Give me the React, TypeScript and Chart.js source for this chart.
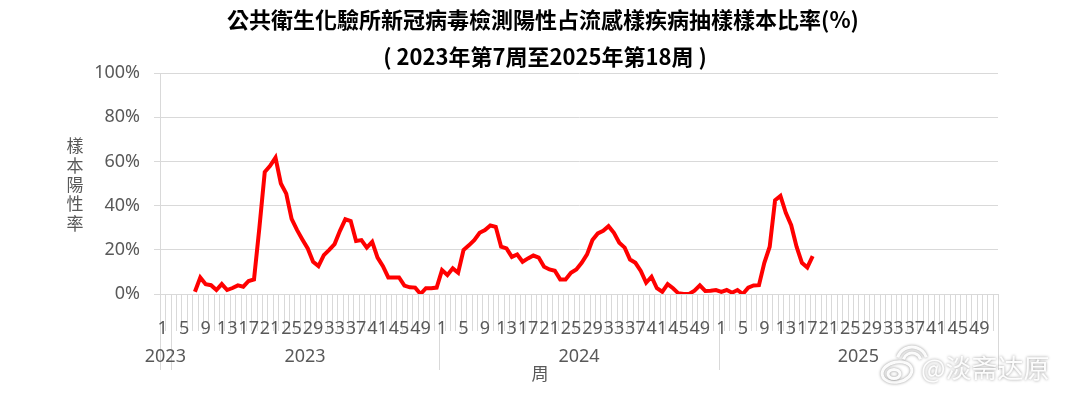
import { useEffect, useRef } from 'react';
import { Chart, registerables } from 'chart.js';

Chart.register(...registerables);

const TITLE_LINES = ['公共衛生化驗所新冠病毒檢測陽性占流感樣疾病抽樣樣本比率(%)', '( 2023年第7周至2025年第18周 )'];
const Y_TITLE = ['樣', '本', '陽', '性', '率'];
const X_TITLE = '周';
const WATERMARK = '@淡斋达原';

// multi-level category groups (year label, number of weeks in group)
const GROUP_LABELS = ['2023', '2023', '2024', '2025'];
const GROUP_SIZES = [2, 50, 52, 52];

// week labels per year
const WEEKS_2023 = Array.from({ length: 52 }, (_, i) => String(i + 1));
const WEEKS_2024 = Array.from({ length: 52 }, (_, i) => String(i + 1));
const WEEKS_2025 = Array.from({ length: 52 }, (_, i) => String(i + 1));

// positivity rate (%)
const VALUES_2023 = [
  null, null, null, null, null, null,
  1, 7.5, 4.4, 4, 1.8, 4.5, 1.8, 2.7, 3.9, 3.3, 5.9, 6.6,
  30, 55.2, 58, 61.7, 50, 45.4, 34, 29, 24.7, 20.6, 14.6, 12.6,
  17.6, 20, 22.6, 28.6, 33.8, 33, 24, 24.4, 21, 23.6, 16.5, 12.6,
  7.5, 7.5, 7.5, 3.8, 3, 2.9, 0, 2.6, 2.6, 2.9,
];
const VALUES_2024 = [
  10.8, 8.6, 11.6, 9.6, 19.9, 22, 24.4, 27.7, 28.9, 31, 30.4, 21.4,
  20.6, 16.8, 17.9, 14.6, 16.1, 17.4, 16.5, 12.3, 11.1, 10.5, 6.6, 6.6,
  9.6, 11.1, 14.1, 17.9, 24.4, 27.4, 28.6, 30.7, 27.7, 23.2, 21, 15.6,
  14.1, 10.4, 5.1, 7.8, 2.6, 1, 4.5, 2.6, 0.3, 0, 0, 1.5, 3.9, 1.4, 1.5, 1.8,
];
const VALUES_2025 = [
  1, 1.8, 0.6, 1.8, 0, 2.9, 3.9, 4, 14.1, 21.4, 42.4, 44.4, 36.7, 31.1, 21.4, 14.1, 12, 17.1,
  ...Array(34).fill(null),
];

const Y_TICK_STEP = 20;
const LABEL_EVERY = 4;

const LABELS = [...WEEKS_2023, ...WEEKS_2024, ...WEEKS_2025];
const VALUES = [...VALUES_2023, ...VALUES_2024, ...VALUES_2025];

const GREY = '#595959';
const LINE_GREY = '#d9d9d9';

const decorPlugin = {
  id: 'decor',
  beforeDraw(chart: any) {
    const ctx = chart.ctx;
    const xs = chart.scales.x;
    const area = chart.chartArea;
    const half = (xs.getPixelForValue(1) - xs.getPixelForValue(0)) / 2;
    const n = LABELS.length;
    const groupStarts = new Set<number>();
    let acc = 0;
    groupStarts.add(0);
    GROUP_SIZES.forEach((s) => { acc += s; groupStarts.add(acc); });
    ctx.save();
    ctx.strokeStyle = LINE_GREY;
    ctx.lineWidth = 1;
    for (let i = 0; i <= n; i++) {
      const px = Math.round(i < n ? xs.getPixelForValue(i) - half : xs.getPixelForValue(n - 1) + half) + 0.5;
      const len = groupStarts.has(i) ? 76 : 37;
      ctx.beginPath();
      ctx.moveTo(px, area.bottom);
      ctx.lineTo(px, area.bottom + len);
      ctx.stroke();
    }
    ctx.restore();
  },
  afterDraw(chart: any) {
    const ctx = chart.ctx;
    const xs = chart.scales.x;
    const area = chart.chartArea;
    const half = (xs.getPixelForValue(1) - xs.getPixelForValue(0)) / 2;
    ctx.save();
    // title
    ctx.fillStyle = '#000';
    ctx.textAlign = 'center';
    ctx.textBaseline = 'middle';
    ctx.font = 'bold 22px "Noto Sans CJK TC"';
    ctx.fillText(TITLE_LINES[0], 543, 20);
    ctx.fillText(TITLE_LINES[1], 545, 57);

    // group (year) labels
    ctx.fillStyle = GREY;
    ctx.font = '18px "Noto Sans"';
    let start = 0;
    GROUP_LABELS.forEach((lab, gi) => {
      const end = start + GROUP_SIZES[gi];
      const l = xs.getPixelForValue(start) - half;
      const r = xs.getPixelForValue(end - 1) + half;
      ctx.fillText(lab, (l + r) / 2, area.bottom + 63);
      start = end;
    });

    // x title
    ctx.font = '17px "Noto Sans CJK TC"';
    ctx.fillText(X_TITLE, area.left + 380, area.bottom + 80);

    // y title (stacked characters)
    Y_TITLE.forEach((ch, i) => {
      ctx.fillText(ch, 75, 146 + i * 19.3);
    });

    // watermark
    ctx.font = '26px "Noto Sans CJK SC"';
    ctx.textAlign = 'left';
    ctx.shadowColor = 'rgba(0,0,0,0.45)';
    ctx.shadowBlur = 3;
    ctx.fillStyle = 'rgba(255,255,255,0.95)';
    ctx.fillText(WATERMARK, 921, 368);
    // weibo-like logo
    ctx.strokeStyle = 'rgba(255,255,255,0.95)';
    ctx.lineWidth = 3;
    ctx.beginPath();
    ctx.ellipse(897, 372, 15, 10, -0.2, 0, Math.PI * 2);
    ctx.stroke();
    ctx.beginPath();
    ctx.ellipse(894, 374, 6, 4.5, 0, 0, Math.PI * 2);
    ctx.stroke();
    ctx.beginPath();
    ctx.arc(912, 362, 9, -Math.PI * 0.9, -Math.PI * 0.1);
    ctx.stroke();
    ctx.beginPath();
    ctx.arc(912, 362, 15, -Math.PI * 0.9, -Math.PI * 0.1);
    ctx.stroke();
    ctx.restore();
  },
};

export default function App() {
  const ref = useRef<HTMLCanvasElement>(null);
  useEffect(() => {
    if (!ref.current) return;
    const chart = new Chart(ref.current, {
      type: 'line',
      data: {
        labels: LABELS,
        datasets: [
          {
            data: VALUES as any,
            borderColor: '#ff0000',
            borderWidth: 4,
            pointRadius: 0,
            tension: 0,
            spanGaps: false,
          },
        ],
      },
      options: {
        responsive: false,
        animation: false,
        layout: { padding: { top: 73, left: 0, right: 71, bottom: 0 } },
        plugins: { legend: { display: false }, tooltip: { enabled: false }, title: { display: false } },
        scales: {
          x: {
            type: 'category',
            offset: true,
            grid: { display: false },
            border: { display: true, color: LINE_GREY },
            ticks: {
              autoSkip: false,
              maxRotation: 0,
              minRotation: 0,
              padding: 16,
              color: GREY,
              font: { family: 'Noto Sans', size: 18 },
              callback: (_v: any, i: number) => (i % LABEL_EVERY === 0 ? LABELS[i] : ''),
            },
            afterFit: (s: any) => { s.height = 100; },
          },
          y: {
            min: 0,
            max: 100,
            grid: { color: LINE_GREY, tickLength: 6, drawTicks: true },
            border: { display: true, color: LINE_GREY },
            ticks: {
              stepSize: Y_TICK_STEP,
              padding: 14,
              color: GREY,
              font: { family: 'Noto Sans', size: 18 },
              callback: (v: any) => `${v}%`,
            },
            afterFit: (s: any) => { s.width = 160; },
          },
        },
      },
      plugins: [decorPlugin],
    });
    return () => chart.destroy();
  }, []);
  return (
    <div style={{ position: 'absolute', left: 0, top: 0, width: 1069, height: 394, background: '#fff' }}>
      <canvas ref={ref} width={1069} height={394} />
    </div>
  );
}
